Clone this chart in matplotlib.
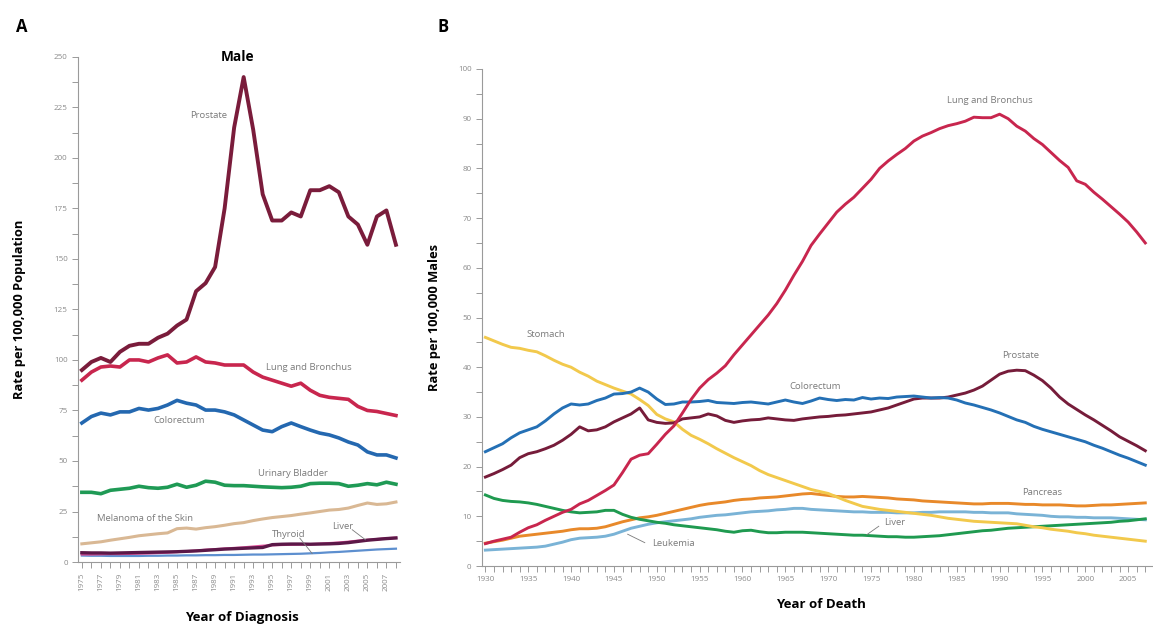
import numpy as np
import matplotlib
matplotlib.use("Agg")
import matplotlib.pyplot as plt
from matplotlib.ticker import MultipleLocator

plt.rcParams["font.family"] = ["Open Sans", "DejaVu Sans"]

# ---------------- Panel A: incidence, males, 1975-2008 ----------------
years_a = list(range(1975, 2009))

prostate_a = [95, 99, 101, 99, 104, 107, 108, 108, 111, 113, 117, 120, 134, 138, 146,
              175, 215, 240, 214, 182, 169, 169, 173, 171, 184, 184, 186, 183, 171, 167,
              157, 171, 174, 157]
lung_a = [90, 94, 96.5, 97, 96.5, 100, 100, 99, 101, 102.5, 98.5, 99, 101.5, 99, 98.5,
          97.5, 97.5, 97.5, 94, 91.5, 90, 88.5, 87, 88.5, 85, 82.5, 81.5, 81, 80.5, 77,
          75, 74.5, 73.5, 72.5]
colorectum_a = [68.8, 72, 73.7, 72.8, 74.3, 74.3, 76, 75.2, 76, 77.7, 80, 78.6, 77.7, 75.2,
                75.2, 74.3, 72.8, 70.3, 67.8, 65.3, 64.5, 67, 68.8, 67, 65.3, 63.8, 62.9,
                61.4, 59.4, 57.9, 54.5, 53, 53, 51.5]
bladder_a = [34.5, 34.5, 33.8, 35.5, 36, 36.5, 37.5, 36.8, 36.5, 37, 38.5, 37, 38, 40,
             39.5, 38, 37.8, 37.8, 37.5, 37.2, 37, 36.8, 37, 37.5, 38.8, 39, 39, 38.8,
             37.5, 38, 38.8, 38.2, 39.5, 38.5]
melanoma_a = [9, 9.5, 10, 10.8, 11.5, 12.2, 13, 13.5, 14, 14.4, 16.5, 16.8, 16.3, 17, 17.5,
              18.2, 19, 19.5, 20.5, 21.3, 22, 22.5, 23, 23.7, 24.3, 25, 25.7, 26, 26.7,
              28, 29.2, 28.5, 28.8, 29.7]
liver_a = [4.6, 4.5, 4.5, 4.4, 4.5, 4.6, 4.7, 4.8, 4.9, 5.0, 5.1, 5.3, 5.5, 5.8, 6.1, 6.4,
           6.6, 6.8, 7.0, 7.2, 8.6, 8.8, 8.9, 8.9, 8.8, 8.9, 9.0, 9.2, 9.6, 10.2, 10.8,
           11.2, 11.6, 11.9]
pink_a = [3.8, 3.8, 3.9, 4.0, 4.0, 4.1, 4.2, 4.3, 4.5, 4.7, 5.0, 5.3, 5.6, 6.0, 6.3, 6.6,
          6.9, 7.2, 7.6, 8.0, 8.3, 8.5, 8.6, 8.7, 8.8, 9.0, 9.3, 9.6, 10.0, 10.5, 10.9,
          11.3, 11.7, 12.0]
thyroid_a = [3.2, 3.1, 3.1, 3.0, 3.0, 3.0, 3.0, 3.1, 3.1, 3.2, 3.2, 3.3, 3.3, 3.4, 3.4,
             3.5, 3.5, 3.6, 3.7, 3.7, 3.8, 3.9, 4.0, 4.1, 4.3, 4.5, 4.8, 5.0, 5.3, 5.6,
             5.9, 6.2, 6.4, 6.6]

# ---------------- Panel B: mortality, males, 1930-2007 ----------------
years_b = list(range(1930, 2008))

lung_b = [4.5, 5.0, 5.4, 5.8, 6.8, 7.7, 8.3, 9.2, 10.0, 10.8, 11.4, 12.5, 13.2, 14.2, 15.2,
          16.3, 18.8, 21.5, 22.3, 22.6, 24.5, 26.5, 28.2, 30.8, 33.5, 35.8, 37.5, 38.8,
          40.3, 42.5, 44.5, 46.5, 48.5, 50.5, 52.8, 55.5, 58.5, 61.3, 64.5, 66.8, 69.0,
          71.2, 72.8, 74.2, 76.0, 77.8, 80.0, 81.5, 82.8, 84.0, 85.5, 86.5, 87.2, 88.0,
          88.6, 89.0, 89.5, 90.3, 90.2, 90.2, 90.9, 90.0, 88.5, 87.5, 86.0, 84.8, 83.2,
          81.6, 80.2, 77.5, 76.8, 75.2, 73.8, 72.3, 70.8, 69.2, 67.2, 65.0]
stomach_b = [46.0, 45.3, 44.6, 44.0, 43.8, 43.4, 43.1, 42.3, 41.4, 40.6, 40.0, 39.0, 38.2,
             37.2, 36.5, 35.8, 35.2, 34.6, 33.5, 32.3, 30.5, 29.6, 29.0, 27.5, 26.3, 25.5,
             24.6, 23.6, 22.7, 21.8, 21.0, 20.2, 19.2, 18.4, 17.8, 17.2, 16.6, 16.0, 15.4,
             15.0, 14.6, 13.9, 13.2, 12.6, 12.0, 11.7, 11.4, 11.2, 11.0, 10.8, 10.6, 10.4,
             10.2, 9.9, 9.6, 9.4, 9.2, 9.0, 8.9, 8.8, 8.7, 8.6, 8.5, 8.2, 7.9, 7.7, 7.4,
             7.2, 7.0, 6.7, 6.5, 6.2, 6.0, 5.8, 5.6, 5.4, 5.2, 5.0]
colorectum_b = [23.0, 23.8, 24.6, 25.8, 26.8, 27.4, 28.0, 29.2, 30.6, 31.8, 32.6, 32.4, 32.6,
                33.3, 33.8, 34.6, 34.7, 35.0, 35.8, 35.0, 33.6, 32.5, 32.6, 33.0, 33.0,
                33.1, 33.3, 32.9, 32.8, 32.7, 32.9, 33.0, 32.8, 32.6, 33.0, 33.4, 33.0,
                32.7, 33.2, 33.8, 33.5, 33.3, 33.5, 33.4, 33.9, 33.6, 33.8, 33.7, 34.0,
                34.1, 34.2, 34.0, 33.8, 33.9, 33.8, 33.4, 32.8, 32.4, 31.9, 31.4, 30.8,
                30.1, 29.4, 28.9, 28.1, 27.5, 27.0, 26.5, 26.0, 25.5, 25.0, 24.3, 23.7,
                23.0, 22.3, 21.7, 21.0, 20.3]
prostate_b = [17.9, 18.6, 19.4, 20.3, 21.8, 22.6, 23.0, 23.6, 24.3, 25.3, 26.5, 28.0, 27.2,
              27.4, 28.0, 29.0, 29.8, 30.6, 31.8, 29.4, 28.9, 28.7, 28.8, 29.6, 29.8, 30.0,
              30.6, 30.2, 29.3, 28.9, 29.2, 29.4, 29.5, 29.8, 29.6, 29.4, 29.3, 29.6, 29.8,
              30.0, 30.1, 30.3, 30.4, 30.6, 30.8, 31.0, 31.4, 31.8, 32.4, 33.0, 33.6, 33.8,
              33.8, 33.8, 34.0, 34.4, 34.8, 35.4, 36.2, 37.4, 38.6, 39.2, 39.4, 39.3, 38.4,
              37.3, 35.8, 34.0, 32.6, 31.5, 30.4, 29.4, 28.3, 27.2, 26.0, 25.1, 24.2, 23.2]
pancreas_b = [4.6, 4.9, 5.2, 5.6, 6.0, 6.2, 6.4, 6.6, 6.8, 7.0, 7.3, 7.5, 7.5, 7.6, 7.9,
              8.4, 8.9, 9.3, 9.7, 9.9, 10.2, 10.6, 11.0, 11.4, 11.8, 12.2, 12.5, 12.7, 12.9,
              13.2, 13.4, 13.5, 13.7, 13.8, 13.9, 14.1, 14.3, 14.5, 14.6, 14.4, 14.2, 14.0,
              13.9, 13.9, 14.0, 13.9, 13.8, 13.7, 13.5, 13.4, 13.3, 13.1, 13.0, 12.9, 12.8,
              12.7, 12.6, 12.5, 12.5, 12.6, 12.6, 12.6, 12.5, 12.4, 12.4, 12.3, 12.3, 12.3,
              12.2, 12.1, 12.1, 12.2, 12.3, 12.3, 12.4, 12.5, 12.6, 12.7]
leukemia_b = [3.2, 3.3, 3.4, 3.5, 3.6, 3.7, 3.8, 4.0, 4.4, 4.8, 5.3, 5.6, 5.7, 5.8, 6.0, 6.4,
              7.0, 7.6, 8.0, 8.4, 8.7, 8.9, 9.1, 9.3, 9.5, 9.8, 10.0, 10.2, 10.3, 10.5, 10.7,
              10.9, 11.0, 11.1, 11.3, 11.4, 11.6, 11.6, 11.4, 11.3, 11.2, 11.1, 11.0, 10.9,
              10.9, 10.8, 10.8, 10.8, 10.7, 10.7, 10.7, 10.8, 10.8, 10.9, 10.9, 10.9, 10.9,
              10.8, 10.8, 10.7, 10.7, 10.7, 10.5, 10.4, 10.3, 10.2, 10.0, 9.9, 9.9, 9.8, 9.8,
              9.7, 9.7, 9.7, 9.6, 9.5, 9.4, 9.3]
liver_b = [14.3, 13.6, 13.2, 13.0, 12.9, 12.7, 12.4, 12.0, 11.6, 11.2, 10.9, 10.7, 10.8,
           10.9, 11.2, 11.2, 10.4, 9.8, 9.4, 9.1, 8.8, 8.6, 8.3, 8.1, 7.9, 7.7, 7.5, 7.3,
           7.0, 6.8, 7.1, 7.2, 6.9, 6.7, 6.7, 6.8, 6.8, 6.8, 6.7, 6.6, 6.5, 6.4, 6.3, 6.2,
           6.2, 6.1, 6.0, 5.9, 5.9, 5.8, 5.8, 5.9, 6.0, 6.1, 6.3, 6.5, 6.7, 6.9, 7.1, 7.2,
           7.4, 7.6, 7.7, 7.8, 7.9, 8.0, 8.1, 8.2, 8.3, 8.4, 8.5, 8.6, 8.7, 8.8, 9.0, 9.1,
           9.3, 9.5]

GRAY = "#8a8a8a"
LBL = "#7a7a7a"
LFS = 6.8  # series label font size


def style_axis(ax):
    for s in ["top", "right"]:
        ax.spines[s].set_visible(False)
    for s in ["left", "bottom"]:
        ax.spines[s].set_color("#9a9a9a")
        ax.spines[s].set_linewidth(0.8)
    ax.tick_params(which="both", direction="out", color="#9a9a9a", labelcolor=GRAY,
                   labelsize=5.8, width=0.7)
    ax.tick_params(which="major", length=4)
    ax.tick_params(which="minor", length=4)


fig = plt.figure(figsize=(11.53, 6.26), dpi=100)

# Panel A
ax1 = fig.add_axes([0.0677, 0.1022, 0.279, 0.807])
ax1.plot(years_a, melanoma_a, color="#d9b894", lw=2.2)
ax1.plot(years_a, thyroid_a, color="#5d8fcf", lw=1.6)
ax1.plot(years_a, pink_a, color="#e0509a", lw=1.8)
ax1.plot(years_a, liver_a, color="#5c1848", lw=2.4)
ax1.plot(years_a, bladder_a, color="#1f9a55", lw=2.6)
ax1.plot(years_a, colorectum_a, color="#2468b0", lw=2.6)
ax1.plot(years_a, lung_a, color="#c8264e", lw=2.6)
ax1.plot(years_a, prostate_a, color="#7a1c3b", lw=2.8)

ax1.set_xlim(1974.6, 2008.4)
ax1.set_ylim(0, 250)
ax1.yaxis.set_major_locator(MultipleLocator(25))
ax1.yaxis.set_minor_locator(MultipleLocator(12.5))
ax1.set_xticks(years_a)
ax1.set_xticklabels([str(y) if (y - 1975) % 2 == 0 else "" for y in years_a], rotation=90)
style_axis(ax1)
ax1.set_ylabel("Rate per 100,000 Population", fontsize=9.3, fontweight="bold", labelpad=20)

ax1.text(1988.3, 221, "Prostate", fontsize=LFS, color=LBL, ha="center", va="center")
ax1.text(1998.8, 96.5, "Lung and Bronchus", fontsize=LFS, color=LBL, ha="center", va="center")
ax1.text(1985.2, 69.8, "Colorectum", fontsize=LFS, color=LBL, ha="center", va="center")
ax1.text(1997.2, 43.6, "Urinary Bladder", fontsize=LFS, color=LBL, ha="center", va="center")
ax1.text(1981.6, 21.3, "Melanoma of the Skin", fontsize=LFS, color=LBL, ha="center", va="center")
ax1.text(1996.7, 13.4, "Thyroid", fontsize=LFS, color=LBL, ha="center", va="center")
ax1.plot([1997.9, 1999.2], [11.8, 4.2], color=LBL, lw=0.6)
ax1.text(2002.4, 17.5, "Liver", fontsize=LFS, color=LBL, ha="center", va="center")
ax1.plot([2003.4, 2004.8], [16.0, 11.0], color=LBL, lw=0.6)

# Panel B
ax2 = fig.add_axes([0.418, 0.0958, 0.582, 0.794])
ax2.plot(years_b, leukemia_b, color="#7ab3d6", lw=2.1)
ax2.plot(years_b, pancreas_b, color="#e8892a", lw=2.1)
ax2.plot(years_b, liver_b, color="#1f9a50", lw=2.1)
ax2.plot(years_b, stomach_b, color="#f2c94c", lw=2.1)
ax2.plot(years_b, prostate_b, color="#761c3a", lw=2.1)
ax2.plot(years_b, colorectum_b, color="#2470b5", lw=2.1)
ax2.plot(years_b, lung_b, color="#c8264e", lw=2.1)

ax2.set_xlim(1929.6, 2007.9)
ax2.set_ylim(0, 100)
ax2.yaxis.set_major_locator(MultipleLocator(10))
ax2.yaxis.set_minor_locator(MultipleLocator(5))
ax2.set_xticks(years_b)
ax2.set_xticklabels([str(y) if y % 5 == 0 else "" for y in years_b])
style_axis(ax2)
ax2.set_ylabel("Rate per 100,000 Males", fontsize=9.3, fontweight="bold", labelpad=12)

ax2.text(1988.9, 93.6, "Lung and Bronchus", fontsize=LFS, color=LBL, ha="center", va="center")
ax2.text(1937.0, 46.5, "Stomach", fontsize=LFS, color=LBL, ha="center", va="center")
ax2.text(1968.5, 36.2, "Colorectum", fontsize=LFS, color=LBL, ha="center", va="center")
ax2.text(1992.4, 42.3, "Prostate", fontsize=LFS, color=LBL, ha="center", va="center")
ax2.text(1995.0, 14.7, "Pancreas", fontsize=LFS, color=LBL, ha="center", va="center")
ax2.text(1977.8, 8.7, "Liver", fontsize=LFS, color=LBL, ha="center", va="center")
ax2.plot([1975.9, 1974.5], [8.0, 6.3], color=LBL, lw=0.6)
ax2.text(1952.0, 4.6, "Leukemia", fontsize=LFS, color=LBL, ha="center", va="center")
ax2.plot([1946.6, 1948.6], [6.4, 4.7], color=LBL, lw=0.6)

# titles and axis captions
fig.text(0.019, 0.957, "A", fontsize=12, fontweight="bold", ha="center", va="center")
fig.text(0.384, 0.957, "B", fontsize=12, fontweight="bold", ha="center", va="center")
fig.text(0.2064, 0.909, "Male", fontsize=9.8, fontweight="bold", ha="center", va="center")
fig.text(0.2099, 0.014, "Year of Diagnosis", fontsize=9.5, fontweight="bold", ha="center", va="center")
fig.text(0.712, 0.034, "Year of Death", fontsize=9.5, fontweight="bold", ha="center", va="center")

fig.savefig("out.png", dpi=100)
